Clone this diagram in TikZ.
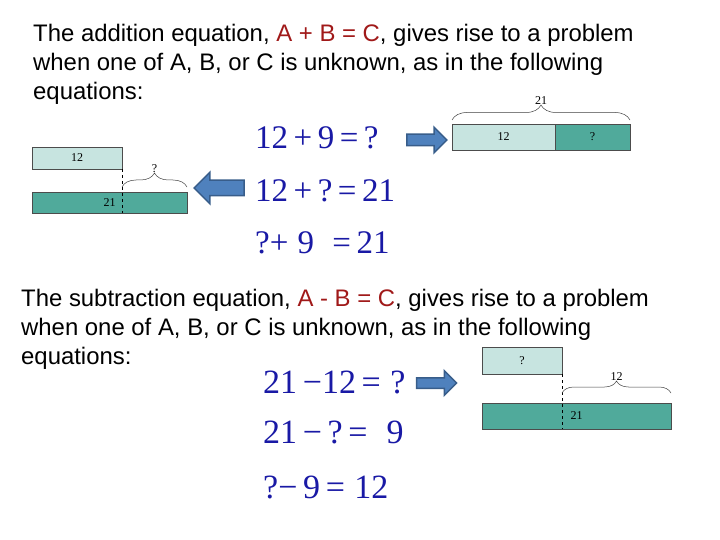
\documentclass[tikz,border=0pt]{standalone}
\usepackage{fontspec}
\setmainfont{Liberation Serif}
\setsansfont{Liberation Sans}
\usetikzlibrary{shapes.arrows,decorations.pathreplacing,positioning}
\definecolor{eqblue}{RGB}{25,25,165}
\definecolor{keyred}{RGB}{160,25,25}
\definecolor{partlight}{RGB}{199,228,224}
\definecolor{partdark}{RGB}{80,170,155}
\definecolor{arrowfill}{RGB}{79,129,189}
\definecolor{arrowedge}{RGB}{56,93,138}
\newcommand*{\txtsize}{\fontsize{23.9}{29}\selectfont}
\newcommand*{\eqsize}{\fontsize{33}{40}\selectfont}
\newcommand*{\subsize}{\fontsize{34}{40}\selectfont}
\newcommand*{\key}[1]{\textcolor{keyred}{#1}}
\tikzset{
	line/.style={
		anchor=base west,
		inner sep=0pt,
		font=\sffamily\txtsize
	},
	eq/.style={
		anchor=base west,
		inner sep=0pt,
		text=eqblue
	},
	part/.style n args={3}{
		rectangle,
		draw=black!70,
		line width=0.6pt,
		fill=#1,
		minimum width=#2,
		minimum height=#3,
		inner sep=0pt,
		outer sep=0pt,
		anchor=north west,
		font=\fontsize{12}{14}\selectfont
	},
	curly/.style={
		decorate,
		decoration={brace, amplitude=#1},
		draw=black!75,
		line width=0.5pt
	},
	bracelbl/.style={
		midway,
		inner sep=0pt,
		font=\fontsize{12}{14}\selectfont
	},
	blockarrow/.style={
		single arrow,
		fill=arrowfill,
		draw=arrowedge,
		line width=1.5pt,
		single arrow head indent=0pt,
		inner xsep=0pt,
		text height=0pt,
		text depth=0pt
	}
}
\begin{document}
\begin{tikzpicture}[x=1pt,y=-1pt]
	\useasboundingbox (0,0) rectangle (720,540);
	% addition text
	\node[line] (addl1) at (33,42) {The addition equation, \key{A + B = C}, gives rise to a problem};
	\node[line] (addl2) at (33,71) {when one of A, B, or C is unknown, as in the following};
	\node[line] (addl3) at (33,100) {equations:};
	% subtraction text
	\node[line] (subl1) at (21,306) {The subtraction equation, \key{A - B = C}, gives rise to a problem};
	\node[line] (subl2) at (21,335) {when one of A, B, or C is unknown, as in the following};
	\node[line] (subl3) at (21,364) {equations:};
	% equations
	\foreach \eqn/\ypos [count=\i] in {{12\,+\,9\,=\,?}/149,{12\,+\,?\,=\,21}/202,{?+\;9\;\;=\,21}/253} {
		\node[eq, font=\upshape\eqsize] (add\i) at (255,\ypos) {\eqn};
	};
	\foreach \eqn/\ypos [count=\i] in {{21\,−12\,=\;?}/393,{21\,−\,?\,=\;\;9}/443,{?−\,9\,=\;12}/498} {
		\node[eq, font=\upshape\subsize] (sub\i) at (263,\ypos) {\eqn};
	};
	% bar for 12 + 9 = ?
	\node[part={partlight}{103pt}{26pt}] (sumA) at (452,124) {12};
	\node[part={partdark}{75pt}{26pt}, anchor=west] (sumB) at (sumA.east) {?};
	\draw[curly=15pt] ([yshift=4pt]sumA.north west) -- node[bracelbl, yshift=19pt] {21} ([yshift=4pt]sumB.north east);
	% bar for 12 + ? = 21
	\node[part={partlight}{90pt}{22pt}] (addA) at (32,147) {12};
	\node[part={partdark}{155pt}{21pt}] (addC) at (32,192) {21};
	\draw[dashed, line width=0.8pt] (addA.south east) -- (addA.south east |- addC.south);
	\draw[curly=14pt] (addA.south east |- 0,187) -- node[bracelbl, yshift=18pt] {?} (addC.east |- 0,187);
	% bar for 21 - 12 = ?
	\node[part={partlight}{80pt}{27pt}] (subA) at (482,347) {?};
	\node[part={partdark}{189pt}{26pt}] (subC) at (482,403) {21};
	\draw[dashed, line width=0.8pt] (subA.south east) -- (subA.south east |- subC.south);
	\draw[curly=12pt] (subA.south east |- 0,393) -- node[bracelbl, yshift=16pt] {12} (subC.east |- 0,393);
	% block arrows
	\node[blockarrow, minimum height=40pt, inner ysep=5pt, single arrow head extend=7pt] (toSum) at (424,140) {};
	\node[blockarrow, minimum height=50pt, inner ysep=7pt, single arrow head extend=8pt, shape border rotate=180] (toAdd) at (223,188) {};
	\node[blockarrow, minimum height=40pt, inner ysep=4.5pt, single arrow head extend=7pt] (toSub) at (434,383) {};
\end{tikzpicture}
\end{document}
